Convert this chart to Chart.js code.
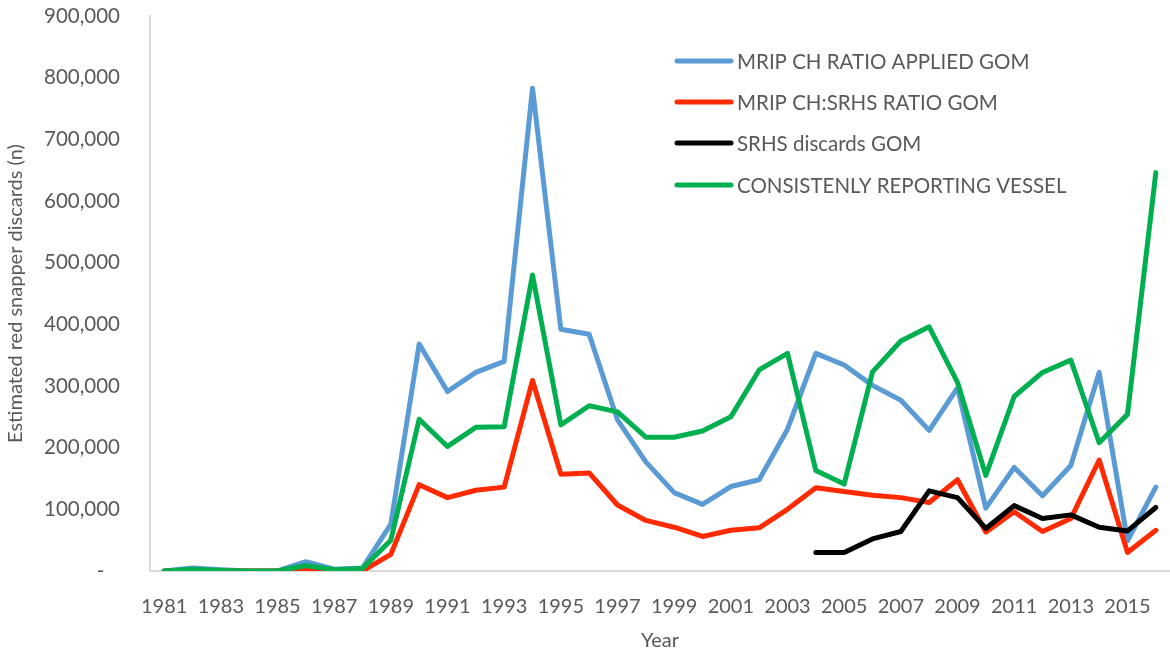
<!DOCTYPE html>
<html>
<head>
<meta charset="utf-8">
<script src="https://cdn.jsdelivr.net/npm/chart.js@4.4.1/dist/chart.umd.min.js"></script>
<style>
  html, body { margin: 0; padding: 0; background: #ffffff; }
  canvas { display: block; }
</style>
</head>
<body>
<canvas id="discards" width="1170" height="656"></canvas>
<script>
// Survey years (category axis)
const years = ['1981','1982','1983','1984','1985','1986','1987','1988','1989','1990',
               '1991','1992','1993','1994','1995','1996','1997','1998','1999','2000',
               '2001','2002','2003','2004','2005','2006','2007','2008','2009','2010',
               '2011','2012','2013','2014','2015','2016'];

// Estimated red snapper discards (n) by method
const mripChRatioApplied = [0, 5000, 2000, 0, 0, 15000, 3000, 5000, 76000, 368000,
                            291000, 322000, 340000, 783000, 392000, 384000, 245000, 177000, 127000, 108000,
                            137000, 148000, 230000, 353000, 334000, 301000, 277000, 228000, 297000, 102000,
                            168000, 122000, 171000, 322000, 49000, 136000];

const mripChSrhsRatio = [0, 0, 0, 0, 0, 3000, 0, 0, 27000, 140000,
                         119000, 131000, 136000, 309000, 157000, 159000, 107000, 82000, 71000, 56000,
                         66000, 70000, 100000, 135000, 129000, 123000, 119000, 111000, 148000, 63000,
                         96000, 64000, 85000, 180000, 30000, 66000];

const srhsDiscards = [null, null, null, null, null, null, null, null, null, null,
                      null, null, null, null, null, null, null, null, null, null,
                      null, null, null, 30000, 30000, 52000, 64000, 130000, 119000, 69000,
                      106000, 85000, 91000, 71000, 65000, 103000];

const consistentVessel = [0, 3000, 1000, 0, 0, 9000, 2000, 4000, 50000, 246000,
                          202000, 233000, 234000, 480000, 237000, 268000, 258000, 217000, 217000, 227000,
                          250000, 326000, 353000, 163000, 141000, 323000, 373000, 396000, 306000, 155000,
                          283000, 322000, 342000, 208000, 254000, 646000];

const seriesNames = ['MRIP CH RATIO APPLIED GOM', 'MRIP CH:SRHS RATIO GOM',
                     'SRHS discards GOM', 'CONSISTENLY REPORTING VESSEL'];
const seriesColors = ['#5B9BD5', '#FF2A00', '#000000', '#00B050'];

const yTickValues = [0, 100000, 200000, 300000, 400000, 500000, 600000, 700000, 800000, 900000];

const textColor = '#595959';
const fontFamily = 'Lato, "Open Sans", sans-serif';

// Legend drawn inside the plot, upper right
const insideLegend = {
  id: 'insideLegend',
  afterDraw(chart) {
    const ctx = chart.ctx;
    const lineX0 = 677, lineX1 = 731, textX = 737;
    const rowY = [61, 102, 143, 185];
    ctx.save();
    ctx.font = '20.5px ' + fontFamily;
    ctx.textBaseline = 'middle';
    ctx.textAlign = 'left';
    chart.data.datasets.forEach((ds, i) => {
      ctx.strokeStyle = ds.borderColor;
      ctx.lineWidth = 5;
      ctx.lineCap = 'round';
      ctx.beginPath();
      ctx.moveTo(lineX0, rowY[i]);
      ctx.lineTo(lineX1, rowY[i]);
      ctx.stroke();
      ctx.fillStyle = textColor;
      ctx.fillText(ds.label, textX, rowY[i] + 1);
    });
    ctx.restore();
  }
};

const seriesData = [mripChRatioApplied, mripChSrhsRatio, srhsDiscards, consistentVessel];

new Chart(document.getElementById('discards'), {
  type: 'line',
  data: {
    labels: years,
    datasets: seriesData.map((values, i) => ({
      label: seriesNames[i],
      data: values,
      borderColor: seriesColors[i],
      backgroundColor: seriesColors[i],
      borderWidth: 5,
      pointRadius: 0,
      pointHoverRadius: 0,
      tension: 0,
      fill: false,
      spanGaps: false,
      borderCapStyle: 'round',
      borderJoinStyle: 'round',
      order: seriesData.length - i
    }))
  },
  options: {
    responsive: false,
    animation: false,
    events: [],
    layout: { padding: { top: 16, right: 0, bottom: 0, left: 0 } },
    plugins: {
      legend: { display: false },
      tooltip: { enabled: false }
    },
    scales: {
      x: {
        type: 'category',
        offset: true,
        grid: { display: true, drawOnChartArea: false, drawTicks: false },
        border: { display: true, color: '#D9D9D9', width: 2 },
        ticks: {
          autoSkip: false,
          maxRotation: 0,
          minRotation: 0,
          padding: 24,
          color: textColor,
          font: { family: fontFamily, size: 20 },
          callback: function (value, index) { return index % 2 === 0 ? years[index] : ''; }
        },
        title: {
          display: true,
          text: 'Year',
          color: textColor,
          font: { family: fontFamily, size: 20 },
          padding: { top: 0, bottom: 3 }
        },
        afterFit(scale) {
          scale.height = 85;
          scale.paddingLeft = 0;
          scale.paddingRight = 0;
        }
      },
      y: {
        min: 0,
        max: 900000,
        grid: { display: true, drawOnChartArea: false, drawTicks: false },
        border: { display: true, color: '#D9D9D9', width: 2 },
        afterBuildTicks(scale) { scale.ticks = yTickValues.map(v => ({ value: v })); },
        ticks: {
          padding: 30,
          color: textColor,
          font: { family: fontFamily, size: 20.5 },
          callback: function (value) { return value === 0 ? '-\u00a0\u00a0\u00a0' : value.toLocaleString('en-US'); }
        },
        title: {
          display: true,
          text: 'Estimated red snapper discards (n)',
          color: textColor,
          font: { family: fontFamily, size: 20 },
          padding: { top: 4, bottom: 0 }
        },
        afterFit(scale) {
          scale.width = 150;
          scale.paddingTop = 0;
          scale.paddingBottom = 0;
        }
      }
    }
  },
  plugins: [insideLegend]
});
</script>
</body>
</html>
